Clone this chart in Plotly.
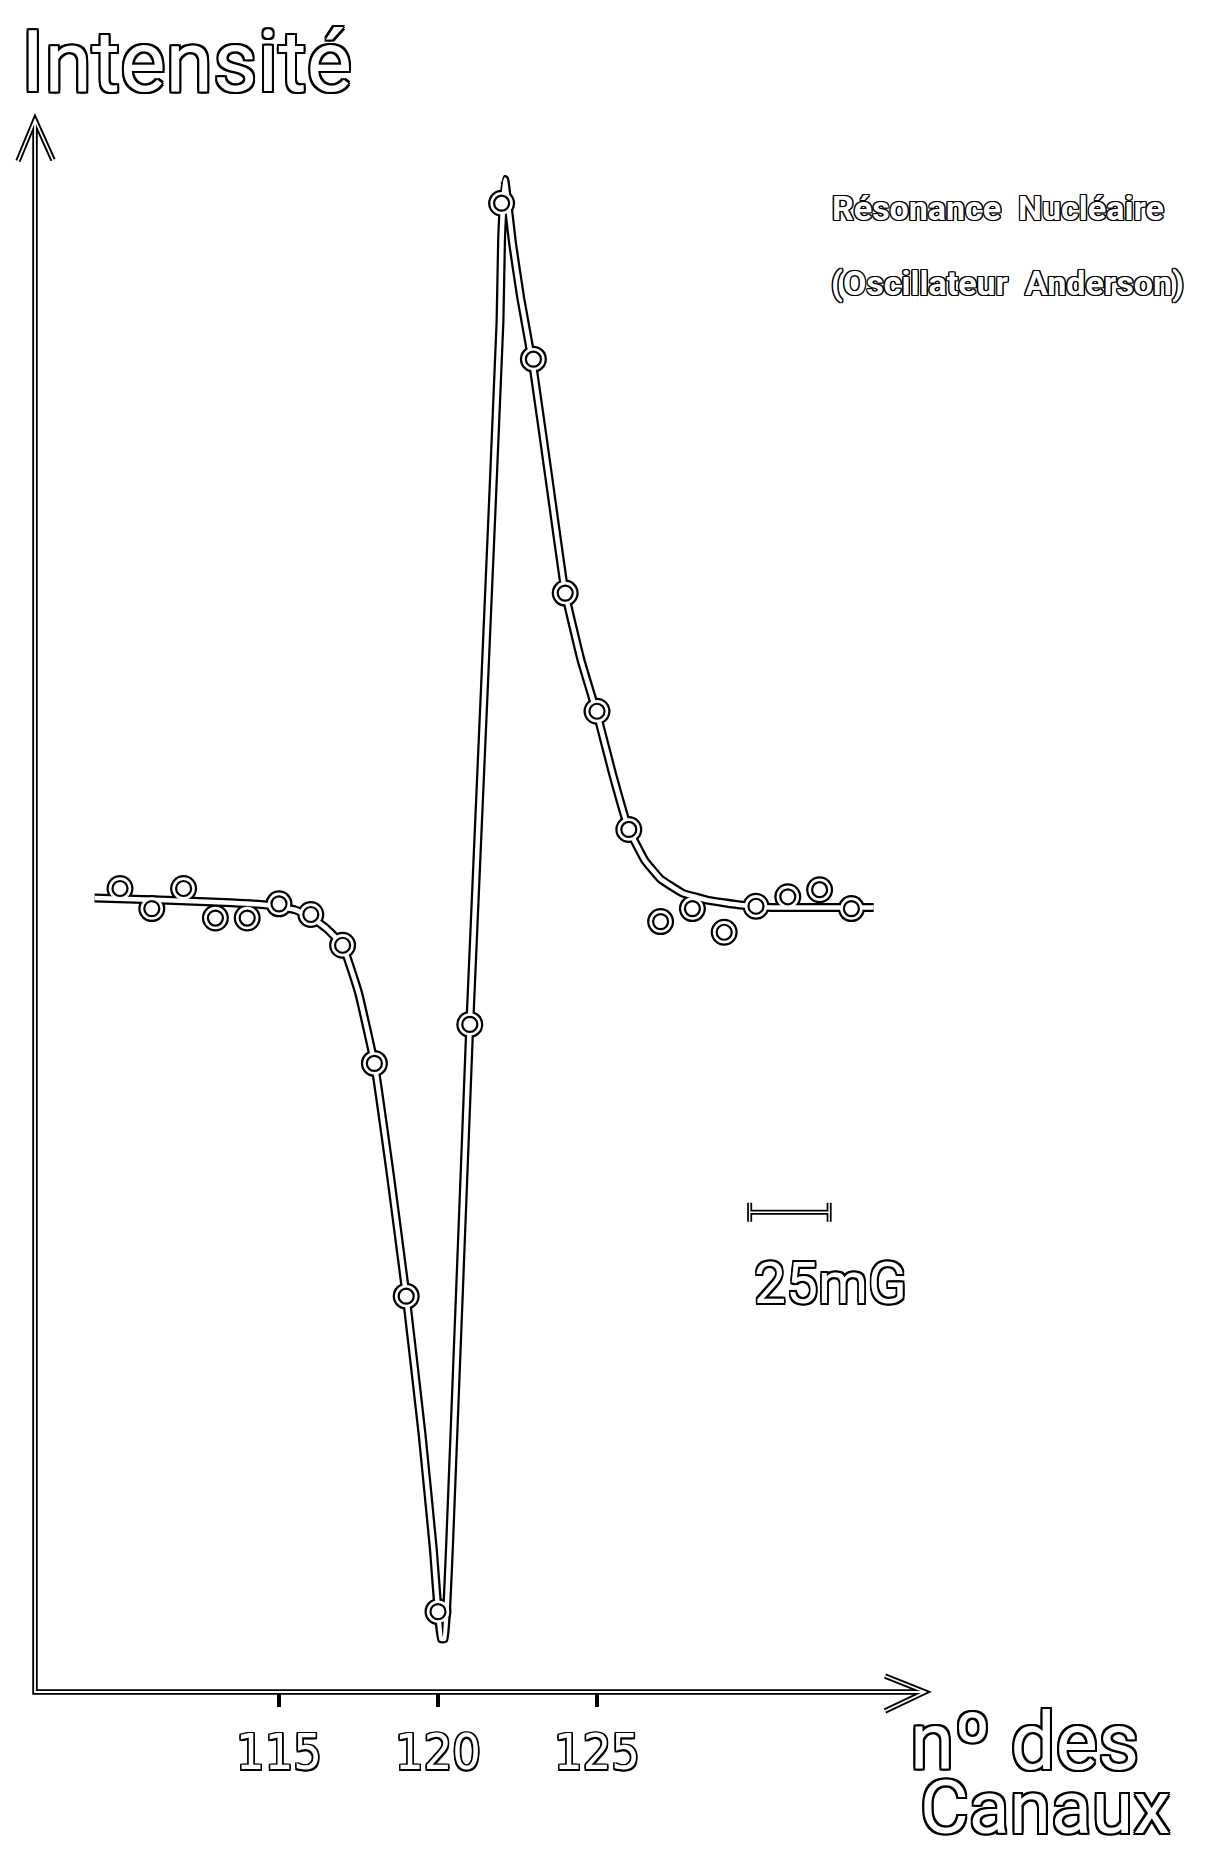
import plotly.graph_objects as go

# ---------------- data ----------------
channels = [110, 111, 112, 113, 114, 115, 116, 117, 118, 119, 120, 121,
            122, 123, 124, 125, 126, 127, 128, 129, 130, 131, 132, 133]
intensity = [68.0, 66.3, 68.0, 65.5, 65.5, 66.7, 65.8, 63.2, 53.2, 33.5, 6.8, 56.5,
             126.0, 112.8, 93.0, 83.0, 73.0, 65.2, 66.3, 64.3, 66.5, 67.3, 67.9, 66.3]

# hand-drawn fitted curve
curve_x = [109.2, 111.5, 113.5, 114.6, 115.5, 116.0, 116.5, 117.0, 117.5, 118.0,
           118.5, 119.0, 119.5, 119.85, 120.1, 120.2, 120.36, 121.0, 121.5, 121.95,
           122.0, 122.1, 122.35, 122.6, 123.0, 123.5, 124.0, 124.5, 125.0, 125.5,
           126.0, 126.5, 127.0, 127.7, 128.5, 129.5, 130.5, 131.5, 132.5, 133.7]
curve_y = [67.2, 67.0, 66.8, 66.6, 66.2, 65.6, 64.6, 63.2, 59.2, 53.2,
           43.8, 33.5, 21.8, 12.2, 4.5, 4.5, 12.2, 56.5, 87.5, 116.0,
           123.0, 128.0, 122.5, 118.0, 112.0, 102.5, 93.0, 87.3, 82.8, 77.6,
           73.0, 70.4, 68.8, 67.6, 67.0, 66.6, 66.4, 66.4, 66.4, 66.4]

x_tick_vals = [115, 120, 125]
x_tick_text = ["115", "120", "125"]

scale_bar_start = 129.8      # channel
scale_bar_channels = 2.5     # width of the 25 mG bar, in channels
scale_bar_level = 40.6       # intensity level of the bar
scale_bar_label = "25mG"

y_title = "Intensité"
x_title_1 = "nº des"
x_title_2 = "Canaux"
note_1 = "Résonance\u00a0\u00a0Nucléaire"
note_2 = "(Oscillateur\u00a0\u00a0Anderson)"

# ---------------- layout geometry (pixels) ----------------
W, H = 1210, 1851
AX_X, AX_Y = 27, 1684        # axes corner
Y_TIP, X_TIP = 112, 917      # arrow tips
PX_PER_CH = 31.8
PX_PER_I = 11.816
X_AT_120 = 430


def fx(p):
    return p / W


def fy(p):
    return 1 - p / H


x_lo = 120 - (X_AT_120 - AX_X) / PX_PER_CH
x_hi = x_lo + (X_TIP - AX_X) / PX_PER_CH
y_hi = (AX_Y - Y_TIP) / PX_PER_I


def outline(d):
    dirs = [(d, 0), (-d, 0), (0, d), (0, -d), (d, d), (-d, -d), (d, -d), (-d, d)]
    return ", ".join(f"{a}px {b}px 0 #000" for a, b in dirs)


def ofont(size, family="Roboto", d=1.5, weight="normal"):
    return dict(size=size, family=family, color="white", shadow=outline(d), weight=weight)


fig = go.Figure()

# black outer layer (curve + points) -> merged outline look
fig.add_trace(go.Scatter(x=curve_x, y=curve_y, mode="lines",
                         line=dict(color="black", width=9, shape="spline", smoothing=0.3),
                         hoverinfo="skip", cliponaxis=False))
fig.add_trace(go.Scatter(x=channels, y=intensity, mode="markers",
                         marker=dict(symbol="circle", size=27, color="black", line=dict(width=0)),
                         hoverinfo="skip", cliponaxis=False))
# white inner layer
fig.add_trace(go.Scatter(x=curve_x, y=curve_y, mode="lines",
                         line=dict(color="white", width=4.5, shape="spline", smoothing=0.3),
                         hoverinfo="skip", cliponaxis=False))
fig.add_trace(go.Scatter(x=channels, y=intensity, mode="markers",
                         marker=dict(symbol="circle", size=22.5, color="white", line=dict(width=0)),
                         hoverinfo="skip", cliponaxis=False))
# inner rings of the points
fig.add_trace(go.Scatter(x=channels, y=intensity, mode="markers",
                         marker=dict(symbol="circle-open", size=15, color="black",
                                     line=dict(width=2.2, color="black")),
                         cliponaxis=False))

shapes = []
# axes drawn as outlined double strokes
axis_path = (f"M {fx(AX_X)} {fy(Y_TIP)} L {fx(AX_X)} {fy(AX_Y)} L {fx(X_TIP)} {fy(AX_Y)}")
y_head = (f"M {fx(10)} {fy(153)} L {fx(AX_X)} {fy(Y_TIP)} L {fx(45)} {fy(152)}")
x_head = (f"M {fx(877)} {fy(1668)} L {fx(X_TIP)} {fy(AX_Y)} L {fx(877)} {fy(1703)}")
for p in (axis_path, y_head, x_head):
    shapes.append(dict(type="path", path=p, xref="paper", yref="paper",
                       line=dict(color="black", width=5.5), layer="above"))
for p in (axis_path, y_head, x_head):
    shapes.append(dict(type="path", path=p, xref="paper", yref="paper",
                       line=dict(color="white", width=1.8), layer="above"))

# scale bar (25 mG)
sb0 = scale_bar_start
sb1 = scale_bar_start + scale_bar_channels
cap = 0.8
bar_segments = [
    (sb0, scale_bar_level, sb1, scale_bar_level),
    (sb0, scale_bar_level - cap, sb0, scale_bar_level + cap),
    (sb1, scale_bar_level - cap, sb1, scale_bar_level + cap),
]
for col, w in (("black", 5), ("white", 1.5)):
    for x0, y0, x1, y1 in bar_segments:
        shapes.append(dict(type="line", xref="x", yref="y", x0=x0, y0=y0, x1=x1, y1=y1,
                           line=dict(color=col, width=w), layer="above"))

annotations = [
    dict(text=y_title, x=fx(11), y=fy(54), xref="paper", yref="paper",
         xanchor="left", yanchor="middle", showarrow=False,
         font=ofont(86, d=2)),
    dict(text=note_1, x=fx(822), y=fy(200), xref="paper", yref="paper",
         xanchor="left", yanchor="middle", showarrow=False,
         font=ofont(34, d=1.2, weight="bold")),
    dict(text=note_2, x=fx(821), y=fy(275), xref="paper", yref="paper",
         xanchor="left", yanchor="middle", showarrow=False,
         font=ofont(34, d=1.2, weight="bold")),
    dict(text=scale_bar_label, x=fx(744), y=fy(1275), xref="paper", yref="paper",
         xanchor="left", yanchor="middle", showarrow=False,
         font=ofont(57, d=1.6)),
    dict(text=x_title_1, x=fx(900), y=fy(1734), xref="paper", yref="paper",
         xanchor="left", yanchor="middle", showarrow=False,
         font=ofont(80, d=2)),
    dict(text=x_title_2, x=fx(910), y=fy(1799), xref="paper", yref="paper",
         xanchor="left", yanchor="middle", showarrow=False,
         font=ofont(75, d=2)),
]

fig.update_layout(
    width=W, height=H,
    margin=dict(l=0, r=0, t=0, b=0),
    paper_bgcolor="white", plot_bgcolor="white",
    showlegend=False,
    xaxis=dict(domain=[fx(AX_X), fx(X_TIP)], range=[x_lo, x_hi],
               showgrid=False, zeroline=False, showline=False,
               tickmode="array", tickvals=x_tick_vals, ticktext=x_tick_text,
               ticks="outside", ticklen=14, tickwidth=4, tickcolor="black",
               ticklabelstandoff=2,
               tickfont=ofont(50, family="DejaVu Sans Condensed, DejaVu Sans", d=1.5)),
    yaxis=dict(domain=[fy(AX_Y), fy(Y_TIP)], range=[0, y_hi],
               showgrid=False, zeroline=False, showline=False,
               showticklabels=False, ticks=""),
    shapes=shapes,
    annotations=annotations,
)

fig.write_html("out.html")
